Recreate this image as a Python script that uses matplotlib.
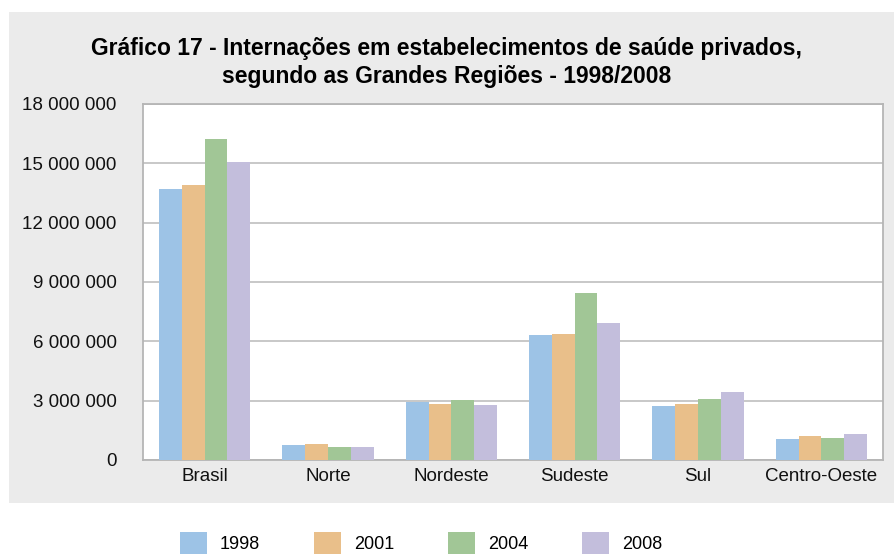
import numpy as np
import matplotlib.pyplot as plt
from matplotlib.patches import Rectangle, Patch

plt.rcParams['font.family'] = ['Liberation Sans', 'DejaVu Sans']

# data
regioes = ['Brasil', 'Norte', 'Nordeste', 'Sudeste', 'Sul', 'Centro-Oeste']
anos = ['1998', '2001', '2004', '2008']
v1998 = [13700000, 760000, 2920000, 6340000, 2720000, 1060000]
v2001 = [13900000, 800000, 2820000, 6390000, 2820000, 1210000]
v2004 = [16250000, 650000, 3020000, 8450000, 3070000, 1110000]
v2008 = [15050000, 650000, 2770000, 6940000, 3420000, 1310000]
yticks = [0, 3000000, 6000000, 9000000, 12000000, 15000000, 18000000]
ytick_labels = ['0', '3 000 000', '6 000 000', '9 000 000', '12 000 000',
                '15 000 000', '18 000 000']

cores = ['#9dc3e6', '#e9bf8a', '#a1c696', '#c3bedc']
W, H = 895, 554

fig = plt.figure(figsize=(W / 100, H / 100), dpi=100)

# gray panel behind the chart
fig.patches.append(Rectangle((9 / W, 1 - 503 / H), (W - 9) / W, (503 - 12) / H,
                             transform=fig.transFigure, facecolor='#ebebeb',
                             edgecolor='none', zorder=-10))

ax = fig.add_axes([143 / W, 1 - 460 / H, (883 - 143) / W, (460 - 104) / H])
ax.set_facecolor('white')

x = np.arange(len(regioes))
largura = 0.185
series = [v1998, v2001, v2004, v2008]
for i, (vals, cor) in enumerate(zip(series, cores)):
    ax.bar(x + (i - 1.5) * largura, vals, width=largura, color=cor, zorder=3)

ax.set_xlim(-0.5, len(regioes) - 0.5)
ax.set_ylim(0, 18000000)
ax.set_yticks(yticks)
ax.set_yticklabels(ytick_labels)
ax.set_xticks(x)
ax.set_xticklabels(regioes)
ax.tick_params(axis='both', length=0, labelsize=13.5, colors='#111111')
ax.tick_params(axis='y', pad=19)
ax.tick_params(axis='x', pad=6)
ax.grid(axis='y', color='#c4c4c4', linewidth=1.3, zorder=1)
for s in ax.spines.values():
    s.set_color('#b5b5b5')
    s.set_linewidth(1.3)

fig.text(447 / W, 1 - 48 / H, 'Gráfico 17 - Internações em estabelecimentos de saúde privados,',
         ha='center', va='center', fontsize=16.5, fontweight='bold')
fig.text(447 / W, 1 - 76 / H, 'segundo as Grandes Regiões - 1998/2008',
         ha='center', va='center', fontsize=16.5, fontweight='bold')

handles = [Patch(facecolor=c, edgecolor='none') for c in cores]
fig.legend(handles, anos, loc='center', bbox_to_anchor=(421 / W, 1 - 543 / H),
           ncol=4, frameon=False, fontsize=13, handlelength=1.5, handleheight=1.5,
           handletextpad=0.7, columnspacing=3.0)

fig.savefig('out.png', dpi=100)
